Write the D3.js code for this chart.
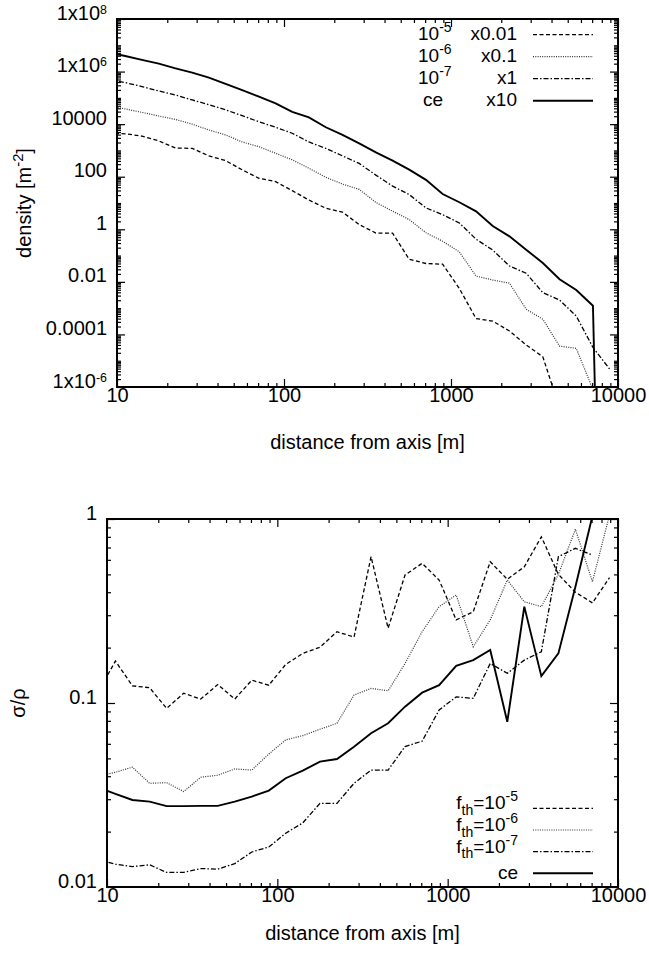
<!DOCTYPE html>
<html>
<head>
<meta charset="utf-8">
<script src="https://cdn.jsdelivr.net/npm/d3@7"></script>
<style>
  body { margin: 0; background: #fff; }
  text { font-family: 'Liberation Sans', Arial, Helvetica, sans-serif; fill: #000; }
</style>
</head>
<body>
<div id="root"></div>
<script>
const width = 649;
const height = 960;
const fontSize = 20;
const legendFontSize = 19;

// Data

const distance = [
  8.9, 11.2, 14.1, 17.8, 22.4, 28.2, 35.5, 44.7, 56.2, 70.8, 89.1, 112, 141, 178,
  224, 282, 355, 447, 562, 708, 891, 1122, 1413, 1778, 2239, 2818, 3548, 4467,
  5623, 7079, 8913,
];

const seriesNames = ['10^-5', '10^-6', '10^-7', 'ce'];
const scaleFactors = [0.01, 0.1, 1, 10];
const factorLabels = ['x0.01', 'x0.1', 'x1', 'x10'];

// densities [m^-2] before the plot scale factor
const density5 = [
  4.4e5, 4.3e5, 3.5e5, 2.3e5, 1.23e5, 1.2e5, 6.2e4, 4.1e4, 1.82e4, 8.7e3, 6.5e3,
  2.95e3, 1.3e3, 630, 450, 151, 72, 71, 7.2, 5.0, 4.7, 0.56, 0.04, 0.032, 0.0135,
  0.004, 0.0014, 1.6e-5,
];
const density6 = [
  5.0e5, 3.8e5, 2.8e5, 2.04e5, 1.51e5, 1.0e5, 6.0e4, 3.9e4, 2.1e4, 1.38e4, 7.8e3,
  4.4e3, 2.1e3, 950, 525, 330, 105, 49, 23.4, 7.4, 3.5, 1.38, 0.166, 0.117, 0.089,
  0.0091, 0.0038, 0.00036, 0.000295, 7.9e-6,
];
const density7 = [
  5.0e5, 3.8e5, 2.7e5, 1.82e5, 1.29e5, 8.3e4, 5.5e4, 3.5e4, 2.1e4, 1.23e4, 7.6e3,
  4.5e3, 2.1e3, 1.2e3, 620, 320, 115, 44, 21, 6.5, 3.6, 1.74, 0.42, 0.162, 0.04,
  0.0214, 0.0039, 0.00204, 0.0005, 3.2e-5, 4.8e-6,
];
const densityCe = [
  5.4e5, 3.9e5, 2.8e5, 2.0e5, 1.33e5, 9.1e4, 5.9e4, 3.4e4, 1.95e4, 1.12e4, 6.2e3,
  2.95e3, 1.82e3, 760, 390, 186, 85, 41, 18.6, 7.6, 2.2, 1.07, 0.48, 0.134, 0.054,
  0.0168, 0.0052, 0.00126, 0.00049, 0.000124, 1e-31,
];

// relative fluctuation sigma/rho
const ratio5 = [
  0.115, 0.169, 0.124, 0.121, 0.0935, 0.113, 0.105, 0.126, 0.105, 0.133, 0.125,
  0.162, 0.186, 0.201, 0.244, 0.228, 0.624, 0.255, 0.496, 0.574, 0.466, 0.283,
  0.313, 0.586, 0.47, 0.55, 0.8, 0.5, 0.4, 0.35, 0.48,
];
const ratio6 = [
  0.04, 0.042, 0.0448, 0.0366, 0.0369, 0.033, 0.0395, 0.0405, 0.0438, 0.0432,
  0.0528, 0.063, 0.0665, 0.072, 0.0776, 0.1105, 0.12, 0.1166, 0.164, 0.244, 0.334,
  0.386, 0.202, 0.283, 0.466, 0.355, 0.334, 0.5, 0.88, 0.456, 1.05,
];
const ratio7 = [
  0.0141, 0.0133, 0.0129, 0.0132, 0.012, 0.012, 0.0126, 0.0125, 0.0134, 0.0155,
  0.0165, 0.0196, 0.0223, 0.0285, 0.0285, 0.0366, 0.0432, 0.0432, 0.058, 0.062,
  0.0916, 0.108, 0.106, 0.164, 0.145, 0.171, 0.19, 0.624, 0.693, 0.637,
];
const ratioCe = [
  0.0347, 0.0321, 0.0297, 0.0291, 0.0275, 0.0275, 0.0276, 0.0276, 0.0291, 0.031,
  0.0334, 0.039, 0.0429, 0.048, 0.0496, 0.0579, 0.0685, 0.0776, 0.0955, 0.1138,
  0.125, 0.159, 0.171, 0.194, 0.079, 0.334, 0.14, 0.186, 0.428, 1.04,
];
const ratioNames = ['f_th=10^-5', 'f_th=10^-6', 'f_th=10^-7', 'ce'];

const distanceTicks = [10, 100, 1000, 10000];
const distanceTickLabels = ['10', '100', '1000', '10000'];
const densityTicks = [1e8, 1e6, 1e4, 100, 1, 0.01, 1e-4, 1e-6];
const densityTickLabels = ['1x10^8', '1x10^6', '10000', '100', '1', '0.01', '0.0001', '1x10^-6'];
const ratioTicks = [1, 0.1, 0.01];
const ratioTickLabels = ['1', '0.1', '0.01'];

// Line styles: dashed, dotted, dash-dot, solid

const lineStyles = [
  { dash: '4,2.5', width: 1.3, color: '#000' },
  { dash: '1,1.3', width: 1.2, color: '#333' },
  { dash: '5,2,1.5,2', width: 1.3, color: '#000' },
  { dash: null, width: 1.9, color: '#000' },
];

const svg = d3
  .select('#root')
  .append('svg')
  .attr('width', width)
  .attr('height', height);

svg.append('rect').attr('width', width).attr('height', height).attr('fill', '#fff');

// text with ^sup and _sub parts
function richText(sel, str, size, supScale = 0.74, supRise = 0.42) {
  const parts = str.split(/(\^-?\d+|_[a-z]+)/).filter((s) => s);
  let shift = 0;
  parts.forEach((p) => {
    let target = 0;
    let fs = size;
    let t = p;
    if (p[0] === '^') {
      target = -supRise * size;
      fs = size * supScale;
      t = p.slice(1);
    } else if (p[0] === '_') {
      target = 0.3 * size;
      fs = size * 0.74;
      t = p.slice(1);
    }
    sel
      .append('tspan')
      .attr('dy', target - shift)
      .style('font-size', fs + 'px')
      .text(t);
    shift = target;
  });
}

function drawPanel(p) {
  const g = svg.append('g');
  const { x, y, box } = p;

  // clip
  const clipId = 'clip-' + p.id;
  svg
    .append('clipPath')
    .attr('id', clipId)
    .append('rect')
    .attr('x', box.left)
    .attr('y', box.top)
    .attr('width', box.right - box.left)
    .attr('height', box.bottom - box.top);

  // minor ticks
  const xMinor = x.ticks().filter((d) => !distanceTicks.includes(d));
  const yMinor = y.ticks(15).filter((d) => !p.yTicks.some((t) => Math.abs(t / d - 1) < 1e-6));

  const axes = [
    [d3.axisBottom(x).tickValues(distanceTicks).tickSize(-8), `translate(0,${box.bottom})`, true],
    [d3.axisBottom(x).tickValues(xMinor).tickSize(-4), `translate(0,${box.bottom})`],
    [d3.axisTop(x).tickValues(distanceTicks).tickSize(-8), `translate(0,${box.top})`],
    [d3.axisTop(x).tickValues(xMinor).tickSize(-4), `translate(0,${box.top})`],
    [d3.axisLeft(y).tickValues(p.yTicks).tickSize(-8), `translate(${box.left},0)`, true],
    [d3.axisLeft(y).tickValues(yMinor).tickSize(-4), `translate(${box.left},0)`],
    [d3.axisRight(y).tickValues(p.yTicks).tickSize(-8), `translate(${box.right},0)`],
    [d3.axisRight(y).tickValues(yMinor).tickSize(-4), `translate(${box.right},0)`],
  ];

  axes.forEach(([axis, tr, labelled], i) => {
    if (labelled) {
      const labels = i === 0 ? distanceTickLabels : p.yTickLabels;
      axis.tickFormat((d, j) => labels[j]).tickPadding(i === 0 ? 15 : 10);
    } else {
      axis.tickFormat('');
    }
    const ag = g.append('g').attr('transform', tr).call(axis);
    ag.select('.domain').remove();
    ag.selectAll('.tick line').attr('stroke', '#000').attr('stroke-width', 1.2);
    ag.attr('font-size', fontSize).attr('font-family', null);
    if (labelled) {
      ag.selectAll('.tick text').each(function () {
        const s = this.textContent;
        const t = d3.select(this);
        t.text(null);
        richText(t, s, fontSize, 0.62, 0.3);
      });
    }
  });

  // series
  const line = d3
    .line()
    .x((d) => x(d[0]))
    .y((d) => y(d[1]));

  p.series.forEach((vals, i) => {
    const st = lineStyles[i];
    const pts = vals.map((v, k) => [distance[k], v * p.factors[i]]);
    g.append('path')
      .attr('clip-path', `url(#${clipId})`)
      .attr('d', line(pts))
      .attr('fill', 'none')
      .attr('stroke', st.color)
      .attr('stroke-width', st.width)
      .attr('stroke-dasharray', st.dash);
  });

  // frame
  g.append('rect')
    .attr('x', box.left)
    .attr('y', box.top)
    .attr('width', box.right - box.left)
    .attr('height', box.bottom - box.top)
    .attr('fill', 'none')
    .attr('stroke', '#000')
    .attr('stroke-width', 2);

  // legend
  p.legendRows.forEach((rowY, i) => {
    const st = lineStyles[i];
    g.append('line')
      .attr('x1', 533)
      .attr('x2', 593)
      .attr('y1', rowY)
      .attr('y2', rowY)
      .attr('stroke', st.color)
      .attr('stroke-width', st.width)
      .attr('stroke-dasharray', st.dash);
    p.legendText(g, i, rowY);
  });

  // axis titles
  g.append('text')
    .attr('x', (box.left + box.right) / 2)
    .attr('y', p.xTitleY)
    .attr('text-anchor', 'middle')
    .style('font-size', fontSize + 'px')
    .text('distance from axis [m]');

  const yt = g
    .append('text')
    .attr('transform', `translate(${p.yTitleX},${(box.top + box.bottom) / 2}) rotate(-90)`)
    .attr('text-anchor', 'middle')
    .style('font-size', fontSize + 'px');
  richText(yt, p.yTitle, fontSize);
}

// Top panel: lateral density

drawPanel({
  id: 'density',
  box: { left: 117, right: 618, top: 19, bottom: 387 },
  x: d3.scaleLog().domain([10, 10000]).range([117, 618]),
  y: d3.scaleLog().domain([1e-6, 1e8]).range([387, 19]),
  yTicks: densityTicks,
  yTickLabels: densityTickLabels,
  series: [density5, density6, density7, densityCe],
  factors: scaleFactors,
  legendRows: [34.7, 56.7, 78.7, 100.7],
  legendText: (g, i, rowY) => {
    const a = g
      .append('text')
      .attr('x', i === 3 ? 423 : 418)
      .attr('y', rowY + 5)
      .style('font-size', legendFontSize + 'px');
    richText(a, seriesNames[i], legendFontSize);
    g.append('text')
      .attr('x', 517)
      .attr('y', rowY + 5)
      .attr('text-anchor', 'end')
      .style('font-size', legendFontSize + 'px')
      .text(factorLabels[i]);
  },
  xTitleY: 449,
  yTitleX: 31,
  yTitle: 'density [m^-2]',
});

// Bottom panel: relative fluctuations

drawPanel({
  id: 'ratio',
  box: { left: 107, right: 618, top: 519, bottom: 887 },
  x: d3.scaleLog().domain([10, 10000]).range([107, 618]),
  y: d3.scaleLog().domain([0.01, 1]).range([887, 519]),
  yTicks: ratioTicks,
  yTickLabels: ratioTickLabels,
  series: [ratio5, ratio6, ratio7, ratioCe],
  factors: [1, 1, 1, 1],
  legendRows: [808.3, 830, 851.7, 873.3],
  legendText: (g, i, rowY) => {
    const a = g
      .append('text')
      .attr('x', 518)
      .attr('y', i === 3 ? rowY + 6 : rowY + 1)
      .attr('text-anchor', 'end')
      .style('font-size', legendFontSize + 'px');
    richText(a, ratioNames[i], legendFontSize);
  },
  xTitleY: 940,
  yTitleX: 25,
  yTitle: 'σ/ρ',
});
</script>
</body>
</html>
